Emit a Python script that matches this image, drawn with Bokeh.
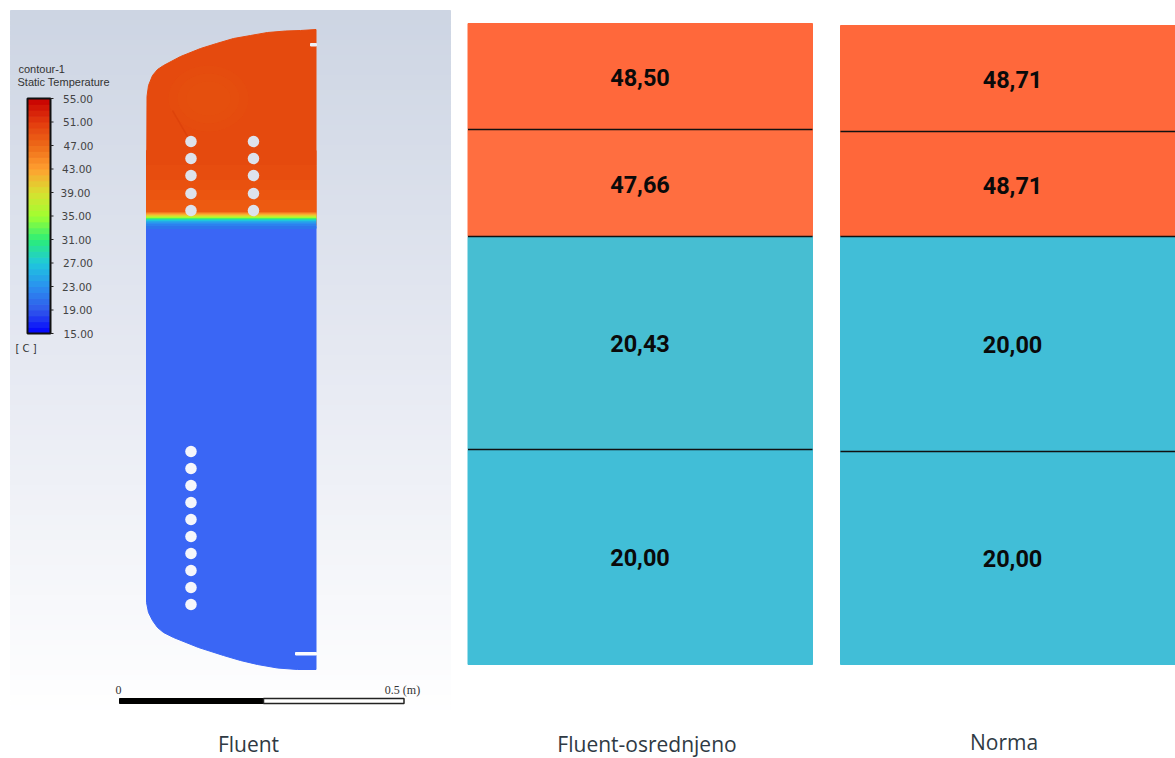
from bokeh.plotting import figure
from bokeh.models import Range1d
from bokeh.core.properties import value
from bokeh.embed import file_html
from bokeh.resources import INLINE

# ---- data ----
panel_names = ["Fluent-osrednjeno", "Norma"]
left_values = ["48,50", "47,66", "20,43", "20,00"]
right_values = ["48,71", "48,71", "20,00", "20,00"]
left_edges = [23, 129, 236, 449, 664]
right_edges = [25, 131, 236, 451, 664]
left_colors = ["#ff683b", "#ff6e40", "#47bed2", "#41bed7"]
right_colors = ["#ff683b", "#ff673a", "#41bed7", "#41bed7"]

scale_temps = [55, 51, 47, 43, 39, 35, 31, 27, 23, 19, 15]
scale_labels = ["55.00", "51.00", "47.00", "43.00", "39.00", "35.00", "31.00", "27.00", "23.00", "19.00", "15.00"]
scale_label_x = [77.5, 77.5, 78, 76.5, 75, 76, 76, 77.5, 76.5, 77, 78]
scale_colors = ["#c80000", "#e23a0e", "#ee6a18", "#ffa030", "#d8e030", "#a0ff30",
                "#2cee78", "#1fc8dc", "#2a90f0", "#3158ea", "#0000ff"]

top_outline_x = [146, 146.5, 148, 152, 157, 163, 180, 200, 216, 233, 250, 267, 285, 300, 315.5]
top_outline_y = [225, 96, 85, 75, 69, 65, 56, 48, 43, 38, 35, 32, 30.5, 30, 29]
bottom_outline_x = [315.5, 315.5, 297, 277, 257, 240, 223, 198, 173, 163, 157, 152, 148, 146, 146]
bottom_outline_y = [225, 669, 669, 667.5, 664, 660, 655, 647, 637, 632, 627, 620, 612, 602, 225]

hot_rows = [150, 165, 180, 190, 200, 212]
hot_shades = ["#e54a0e", "#e74d0f", "#e9510f", "#eb5510", "#ed5a11"]
cold_color = "#3a66f5"
interface_y = [212, 213, 214, 215, 216, 217, 218, 219, 220, 221, 222, 223, 224, 226, 228]
interface_t = [46, 44, 42, 40, 38, 35, 32, 29, 27, 25, 24, 23, 22, 21, 20]

upper_holes_y = [141, 158, 175, 193, 210]
upper_holes_x = [190.5, 253]
lower_holes_y = [451, 468, 485, 502, 519, 536, 553, 570, 587, 604]
lower_holes_x = [190.5]

bg_y = [10, 360, 715]
bg_rgb = [(205, 213, 227), (230, 233, 242), (255, 255, 255)]


def lerp_color(stops_x, stops_c, x):
    for i in range(len(stops_x) - 1):
        a, b = stops_x[i], stops_x[i + 1]
        if min(a, b) <= x <= max(a, b):
            t = (x - a) / (b - a)
            ca, cb = stops_c[i], stops_c[i + 1]
            return tuple(int(round(ca[k] + (cb[k] - ca[k]) * t)) for k in range(3))
    return stops_c[-1]


def to_rgb(h):
    return tuple(int(h[i:i + 2], 16) for i in (1, 3, 5))


def to_hex(c):
    return "#%02x%02x%02x" % c


scale_rgb = [to_rgb(c) for c in scale_colors]


def temp_color(t):
    return to_hex(lerp_color(scale_temps, scale_rgb, t))


# coordinates below are reference-picture pixels
p = figure(width=1175, height=758, x_range=Range1d(0, 1175), y_range=Range1d(758, 0),
           output_backend="svg", toolbar_location=None, min_border=0,
           background_fill_color="white", outline_line_color=None)
p.xaxis.visible = False
p.yaxis.visible = False
p.grid.visible = False

# viewport gradient
rows = list(range(10, 715, 5))
p.quad(left=10, right=450, top=rows, bottom=[r + 5 for r in rows],
       color=[to_hex(lerp_color(bg_y, bg_rgb, r)) for r in rows])

# vessel
p.patch(top_outline_x + [315.5], top_outline_y + [225], color=hot_shades[0])
p.patch(bottom_outline_x, bottom_outline_y, color=cold_color)
p.quad(left=146, right=315.5, top=hot_rows[:-1], bottom=hot_rows[1:], color=hot_shades)
p.ellipse(x=[208, 208, 208], y=[98, 98, 98], width=[80, 62, 44], height=[66, 50, 34],
          color="#ea5610", alpha=0.18, line_color=None)
p.line([172, 187], [110, 136], color="#d63a08", line_width=1.5, alpha=0.5)
for i in range(len(interface_y) - 1):
    p.quad(left=[146], right=[315.5], top=[interface_y[i]], bottom=[interface_y[i + 1]],
           color=temp_color(interface_t[i]))

# cooling holes
for hx in upper_holes_x:
    p.scatter([hx] * len(upper_holes_y), upper_holes_y, size=11.5, color="#dde2ec", line_color=None)
for hx in lower_holes_x:
    p.scatter([hx] * len(lower_holes_y), lower_holes_y, size=11.5, color="#f5f6fb", line_color=None)
p.quad(left=[310], right=[316], top=[43], bottom=[45.5], color="#eef0f5")
p.quad(left=[295], right=[316], top=[652], bottom=[654.5], color="#fbfbfe")

# temperature scale
bar_top, bar_bottom = 98, 333
px_per_deg = (bar_bottom - bar_top) / 40
degs = list(range(15, 55))
p.quad(left=27, right=50,
       top=[bar_bottom - (d + 1 - 15) * px_per_deg for d in degs],
       bottom=[bar_bottom - (d - 15) * px_per_deg for d in degs],
       color=[temp_color(d + 0.5) for d in degs])
p.quad(left=[27], right=[50], top=[bar_top], bottom=[bar_bottom],
       fill_color=None, line_color="#111111", line_width=2)
tick_y = [bar_bottom - (t - 15) * px_per_deg for t in scale_temps]
p.segment(x0=50, x1=53, y0=tick_y, y1=tick_y, color="#222222")
p.text(x=scale_label_x, y=tick_y, text=scale_labels, text_align="center", text_baseline="middle",
       text_font=value("DejaVu Sans"), text_font_size="10.5px", text_color="#444444")
p.text(x=[18, 17], y=[68, 81], text=["contour-1", "Static Temperature"],
       text_baseline="middle", text_font=value("Liberation Sans"), text_font_size="11px",
       text_color="#333333")
p.text(x=[15], y=[348], text=["[ C ]"], text_baseline="middle", text_font=value("DejaVu Sans"),
       text_font_size="10px", text_color="#333333")

# length scale
p.quad(left=[119], right=[263], top=[698], bottom=[703], color="#000000")
p.quad(left=[263], right=[403.5], top=[698], bottom=[703], fill_color="white", line_color="#222222", line_width=1.5)
p.text(x=[118, 402], y=[689, 689], text=["0", "0.5 (m)"], text_align="center", text_baseline="middle",
       text_font=value("Liberation Serif"), text_font_size="12px", text_color="#333333")

# averaged panels
for x0, x1, edges, colors, vals in [(467.5, 812, left_edges, left_colors, left_values),
                                    (840, 1175, right_edges, right_colors, right_values)]:
    p.quad(left=x0, right=x1, top=edges[:-1], bottom=edges[1:], color=colors)
    p.segment(x0=x0, x1=x1, y0=edges[1:-1], y1=edges[1:-1], color="#111111", line_width=1.4)
    xc = 639.5 if x0 < 800 else 1012
    p.text(x=[xc] * 4, y=[(edges[i] + edges[i + 1]) / 2 + (1 if i < 2 else 0) for i in range(4)], text=vals,
           text_align="center", text_baseline="middle", text_font=value("Roboto"),
           text_font_size="23.5px", text_font_style="bold", text_color="#0a0a0a")

# captions
p.text(x=[248, 646.5, 1003.5], y=[743.5, 743.5, 741], text=["Fluent"] + panel_names,
       text_align="center", text_baseline="middle", text_font=value("Open Sans"),
       text_font_size="21px", text_color="#2f3a44")

open("out.html", "w").write(file_html(p, INLINE))
